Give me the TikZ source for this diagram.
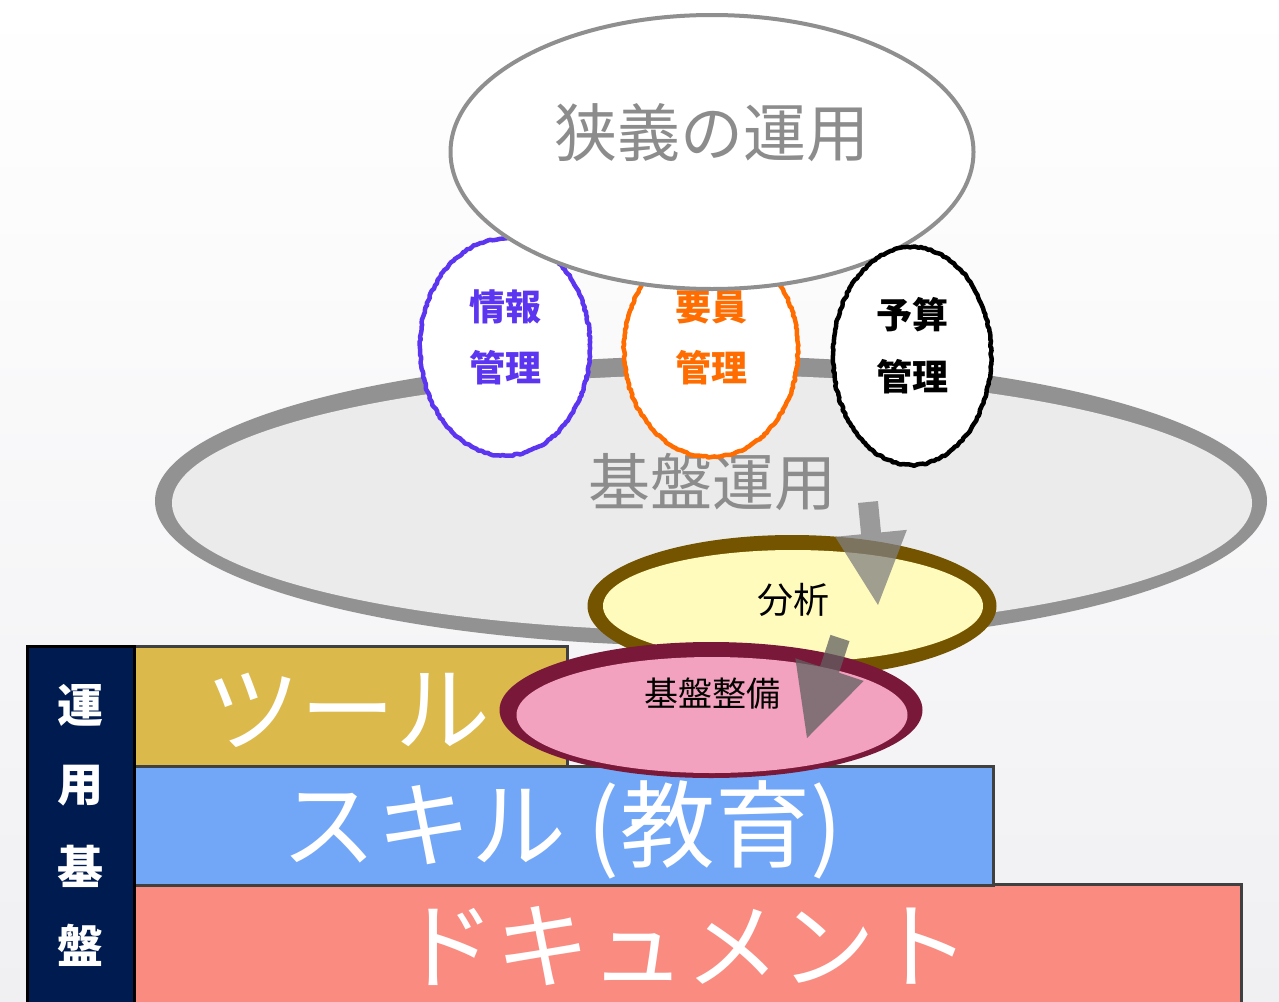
\documentclass[tikz,border=0pt]{standalone}
\usepackage{fontspec}
\setmainfont{Noto Sans CJK JP}
\usetikzlibrary{shapes.geometric,decorations.pathmorphing,calc}
\definecolor{bgbottom}{RGB}{240,240,243}
\definecolor{toolc}{RGB}{220,185,75}
\definecolor{skillc}{RGB}{114,167,248}
\definecolor{docc}{RGB}{250,139,128}
\definecolor{navyc}{RGB}{0,27,80}
\definecolor{barline}{RGB}{64,64,64}
\definecolor{kibanout}{RGB}{146,146,146}
\definecolor{kibanin}{RGB}{235,235,235}
\definecolor{topline}{RGB}{143,143,143}
\definecolor{txtgray}{RGB}{140,140,140}
\definecolor{brownc}{RGB}{117,84,0}
\definecolor{yellowc}{RGB}{255,251,188}
\definecolor{maroonc}{RGB}{122,24,58}
\definecolor{pinkc}{RGB}{242,161,190}
\definecolor{purplec}{RGB}{91,53,240}
\definecolor{orangec}{RGB}{255,109,0}
\newcommand\blockarr[3]{%
  \coordinate (#1b) at ($(#2)!72pt!(#1)$);
  \fill[#3] ($(#1)!10pt!90:(#2)$) -- ($(#1b)!10pt!90:(#2)$) -- ($(#1b)!36pt!90:(#2)$) -- (#2)
    -- ($(#1b)!36pt!-90:(#2)$) -- ($(#1b)!10pt!-90:(#2)$) -- ($(#1)!10pt!-90:(#2)$) -- cycle;
}
\begin{document}
\begin{tikzpicture}[x=1pt,y=-1pt,
  every node/.style={inner sep=0pt,outer sep=0pt},
  oval/.style={ellipse,inner sep=0pt,outer sep=0pt},
  barbox/.style={draw=barline,line width=3pt,anchor=north west},
  bartext/.style={text=white,font=\fontsize{95}{100}\selectfont},
  sketch/.style={ellipse,fill=white,line width=4.5pt,line join=round,decorate,
    decoration={random steps,segment length=2.5pt,amplitude=0.8pt}},
  circtext/.style={font=\fontsize{36}{40}\selectfont\bfseries},
  bigtext/.style={text=txtgray,font=\fontsize{62}{70}\selectfont},
  sidetext/.style={text=white,font=\fontsize{46}{50}\selectfont\bfseries},
  arrowA/.style={fill={rgb,255:red,128;green,128;blue,128},fill opacity=0.75},
  arrowB/.style={fill={rgb,255:red,96;green,96;blue,96},fill opacity=0.75}]
\useasboundingbox (0,0) rectangle (1279,1001);
\shade[top color=white,bottom color=bgbottom] (0,0) rectangle (1279,1001);

% bars
\node[barbox,fill=docc,minimum width=1107,minimum height=122] (docbar) at (134,884) {};
\node[barbox,fill=skillc,minimum width=859,minimum height=119] (skillbar) at (134,766) {};
\node[barbox,fill=toolc,minimum width=433,minimum height=120] (toolbar) at (134,646) {};
\node[draw=black,line width=3pt,fill=navyc,anchor=north west,minimum width=107,minimum height=360] (sidebar) at (27,646) {};
\node[bartext] (tooltxt) at (348,710) {ツール};
\node[bartext] (skilltxt) at (562,830) {スキル (教育)};
\node[bartext] (doctxt) at (685,946) {ドキュメント};
\node[sidetext] (s1) at (80,705) {運};
\node[sidetext] (s2) at (80,786) {用};
\node[sidetext] (s3) at (80,866) {基};
\node[sidetext] (s4) at (80,945) {盤};

% big gray ellipse
\node[oval,fill=kibanout,minimum width=1112,minimum height=290] (kibanshadow) at (711,501) {};
\node[oval,fill=kibanin,minimum width=1080,minimum height=256] (kiban) at (712,503) {};
\node[bigtext] (kibantxt) at (712,482) {基盤運用};

% management circles
\node[sketch,draw=purplec,minimum width=170,minimum height=217] (joho) at (505,347) {};
\node[circtext,text=purplec] (joho1) at (505,307) {情報};
\node[circtext,text=purplec] (joho2) at (505,368) {管理};
\node[sketch,draw=orangec,minimum width=174,minimum height=214] (yoin) at (711,350) {};
\node[circtext,text=orangec] (yoin1) at (711,307) {要員};
\node[circtext,text=orangec] (yoin2) at (711,368) {管理};

% narrow operation
\node[oval,draw=topline,line width=4pt,fill=white,minimum width=523,minimum height=274] (narrow) at (712,152) {};
\node[text=txtgray,font=\fontsize{63}{70}\selectfont] (narrowtxt) at (712,133) {狭義の運用};

\node[sketch,draw=black,minimum width=158,minimum height=218] (yosan) at (912,356) {};
\node[circtext,text=black] (yosan1) at (912,315) {予算};
\node[circtext,text=black] (yosan2) at (912,377) {管理};

% analysis
\node[oval,fill=brownc,minimum width=409,minimum height=142] (bunsekiout) at (792,606) {};
\node[oval,fill=yellowc,minimum width=380,minimum height=112] (bunseki) at (793,606) {};
\node[font=\fontsize{36}{40}\selectfont] (bunsekitxt) at (793,600) {分析};
\coordinate (a1s) at (868,502);
\coordinate (a1t) at (878,605);
\blockarr{a1s}{a1t}{arrowA}

% infrastructure
\node[oval,fill=maroonc,minimum width=423,minimum height=136] (seibiout) at (711,710) {};
\node[oval,fill=pinkc,minimum width=391,minimum height=116] (seibi) at (712,715) {};
\node[font=\fontsize{34}{38}\selectfont] (seibitxt) at (712,694) {基盤整備};
\coordinate (a2s) at (840,638);
\coordinate (a2t) at (807,738);
\blockarr{a2s}{a2t}{arrowB}
\end{tikzpicture}
\end{document}
